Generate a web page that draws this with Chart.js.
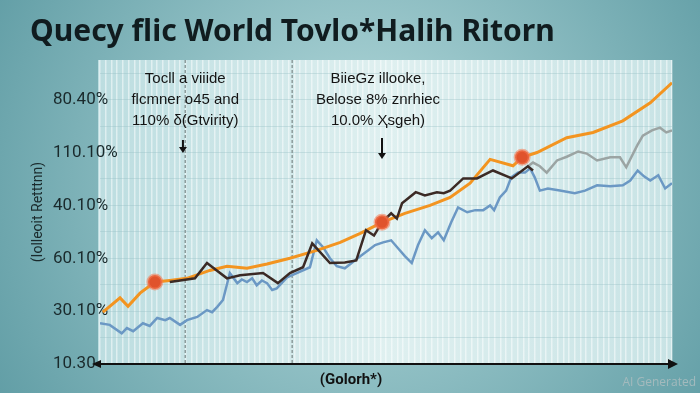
<!DOCTYPE html>
<html>
<head>
<meta charset="utf-8">
<script src="https://cdn.jsdelivr.net/npm/chart.js@4/dist/chart.umd.min.js"></script>
<style>
  html, body { margin: 0; padding: 0; background: #7fb3b8; }
  #wrap { width: 700px; height: 393px; }
</style>
</head>
<body>
<div id="wrap"><canvas id="lineChart" width="700" height="393"></canvas></div>
<script>
// values: x = period (0..100), y = position on the return axis
const yTickLabels = ['10.30', '30.10%', '60.10%', '40.10%', '110.10%', '80.40%'];

const orangeT = [0.5, 3.5, 4.9, 7.0, 9.6, 12.2, 15.2, 19.2, 22.2, 25.7, 29.2, 33.2, 37.9, 42.0, 45.5, 49.3, 53.3, 57.7, 61.2, 64.7, 68.2, 72.2, 73.8, 76.4, 81.6, 86.2, 91.4, 96.2, 100];
const orangeV = [0.98, 1.25, 1.09, 1.34, 1.55, 1.58, 1.62, 1.77, 1.85, 1.81, 1.89, 2.00, 2.15, 2.30, 2.47, 2.68, 2.85, 3.00, 3.15, 3.42, 3.87, 3.75, 3.91, 4.00, 4.28, 4.38, 4.60, 4.94, 5.32];

const blueT = [0, 1.7, 3.8, 4.7, 5.8, 7.5, 8.7, 10.0, 11.4, 12.2, 14.0, 15.2, 17.0, 18.7, 19.6, 20.5, 21.5, 22.7, 24.0, 24.8, 25.7, 26.6, 27.4, 28.3, 29.2, 30.1, 30.9, 32.7, 34.4, 36.7, 37.9, 39.0, 40.2, 41.4, 42.8, 44.1, 45.5, 46.9, 48.1, 49.5, 50.9, 52.1, 53.3, 54.5, 55.6, 56.8, 58.0, 59.1, 60.1, 61.4, 62.6, 64.2, 65.6, 67.0, 68.2, 68.9, 69.9, 71.0, 71.9, 73.1, 74.3, 75.2, 76.0, 76.9, 78.3, 80.4, 83.0, 84.8, 86.9, 89.2, 91.4, 92.7, 94.0, 95.1, 96.2, 97.6, 98.8, 100];
const blueV = [0.77, 0.74, 0.58, 0.68, 0.62, 0.77, 0.72, 0.87, 0.83, 0.87, 0.74, 0.83, 0.89, 1.02, 0.98, 1.08, 1.21, 1.72, 1.53, 1.60, 1.55, 1.62, 1.49, 1.58, 1.53, 1.40, 1.43, 1.64, 1.72, 1.83, 2.34, 2.21, 2.00, 1.85, 1.81, 1.92, 2.04, 2.15, 2.25, 2.30, 2.34, 2.19, 2.04, 1.91, 2.25, 2.53, 2.38, 2.49, 2.34, 2.68, 2.96, 2.87, 2.91, 2.91, 3.00, 2.91, 3.15, 3.28, 3.53, 3.62, 3.62, 3.70, 3.53, 3.28, 3.32, 3.28, 3.23, 3.28, 3.38, 3.36, 3.38, 3.47, 3.66, 3.55, 3.47, 3.57, 3.32, 3.42];

const blackT = [12.2, 15.2, 16.6, 18.7, 22.2, 24.5, 28.5, 31.1, 33.2, 35.5, 37.1, 40.2, 42.8, 44.8, 46.5, 47.9, 49.3, 50.9, 51.9, 52.8, 55.2, 56.8, 58.9, 60.1, 61.2, 63.5, 65.9, 68.7, 72.0, 74.8, 75.7];
const blackV = [1.55, 1.60, 1.62, 1.91, 1.62, 1.68, 1.72, 1.53, 1.72, 1.83, 2.28, 1.91, 1.92, 1.96, 2.53, 2.43, 2.68, 2.85, 2.75, 3.04, 3.25, 3.19, 3.25, 3.23, 3.28, 3.51, 3.51, 3.66, 3.51, 3.74, 3.66];

const grayT = [74.8, 75.7, 76.9, 78.1, 79.9, 81.6, 83.6, 85.1, 86.9, 89.2, 90.9, 92.0, 93.9, 94.9, 96.5, 97.9, 99.0, 100];
const grayV = [3.74, 3.81, 3.74, 3.62, 3.85, 3.92, 4.02, 3.98, 3.85, 3.91, 3.91, 3.72, 4.13, 4.32, 4.42, 4.47, 4.38, 4.42];

const markerT = [9.6, 49.3, 73.8];
const markerV = [1.55, 2.68, 3.91];

const dividerT = [14.9, 33.6];
const notes = [
  { t: 14.9, lines: ['Tocll a viiide', 'flcmner o45 and', '110% δ(Gtvirity)'] },
  { t: 48.6, lines: ['BiieGz illooke,', 'Belose 8% znrhiec', '10.0% Ҳsgeh)'] }
];
const arrowT = [14.5, 49.3];

const pts = (ts, vs) => ts.map((t, i) => ({ x: t, y: vs[i] }));

const backdrop = {
  id: 'backdrop',
  beforeDraw(chart) {
    const { ctx, chartArea: a } = chart;
    ctx.save();
    const g = ctx.createRadialGradient(360, 170, 20, 360, 190, 430);
    g.addColorStop(0, '#b2d8da');
    g.addColorStop(1, '#5f9ca4');
    ctx.fillStyle = g;
    ctx.fillRect(0, 0, chart.width, chart.height);
    const p = ctx.createLinearGradient(a.left, 0, a.right, 0);
    p.addColorStop(0, '#bcdde0');
    p.addColorStop(0.5, '#dff0f0');
    p.addColorStop(1, '#c8e3e5');
    ctx.fillStyle = p;
    ctx.fillRect(a.left - 2, a.top, a.right - a.left + 2, a.bottom - a.top);
    ctx.restore();
  },
  beforeDatasetsDraw(chart) {
    const { ctx, chartArea: a, scales } = chart;
    ctx.save();
    ctx.strokeStyle = '#8c9c9c';
    ctx.lineWidth = 1.5;
    ctx.setLineDash([3, 2]);
    dividerT.forEach(t => {
      const x = scales.x.getPixelForValue(t);
      ctx.beginPath();
      ctx.moveTo(x, a.top);
      ctx.lineTo(x, a.bottom);
      ctx.stroke();
    });
    ctx.restore();
  },
  afterDraw(chart) {
    const { ctx, chartArea: a, scales } = chart;
    ctx.save();
    // title
    ctx.fillStyle = '#101c1f';
    ctx.font = 'bold 30px "Noto Sans"';
    ctx.textBaseline = 'alphabetic';
    ctx.textAlign = 'left';
    ctx.fillText('Quecy flic World Tovlo*Halih Ritorn', 30, 41, 525);

    // notes
    ctx.font = '15px "Liberation Sans"';
    ctx.textAlign = 'center';
    ctx.textBaseline = 'middle';
    ctx.fillStyle = '#141414';
    notes.forEach(n => {
      const x = scales.x.getPixelForValue(n.t);
      n.lines.forEach((s, i) => ctx.fillText(s, x, 79 + i * 21));
    });

    // small arrows under the notes
    ctx.strokeStyle = '#111';
    ctx.fillStyle = '#111';
    ctx.lineWidth = 2;
    arrowT.forEach((t, i) => {
      const x = scales.x.getPixelForValue(t);
      const y0 = i === 0 ? 140 : 138, y1 = i === 0 ? 152 : 158;
      ctx.beginPath();
      ctx.moveTo(x, y0);
      ctx.lineTo(x, y1 - 4);
      ctx.stroke();
      ctx.beginPath();
      ctx.moveTo(x - 4, y1 - 5);
      ctx.lineTo(x + 4, y1 - 5);
      ctx.lineTo(x, y1 + 1);
      ctx.closePath();
      ctx.fill();
    });

    // x axis line with arrows
    const y = a.bottom;
    ctx.lineWidth = 2;
    ctx.beginPath();
    ctx.moveTo(94, y);
    ctx.lineTo(672, y);
    ctx.stroke();
    ctx.beginPath();
    ctx.moveTo(678, y);
    ctx.lineTo(668, y - 5);
    ctx.lineTo(668, y + 5);
    ctx.closePath();
    ctx.fill();
    ctx.beginPath();
    ctx.moveTo(92, y);
    ctx.lineTo(101, y - 4);
    ctx.lineTo(101, y + 4);
    ctx.closePath();
    ctx.fill();

    // watermark
    ctx.font = '12px "Open Sans"';
    ctx.textAlign = 'right';
    ctx.fillStyle = '#a3babd';
    ctx.fillText('AI Generated', 696, 383);
    ctx.restore();
  }
};

const ctx = document.getElementById('lineChart').getContext('2d');
let lineChart = new Chart(ctx, {
  type: 'line',
  data: {
    datasets: [
      {
        label: 'Markers',
        data: pts(markerT, markerV),
        showLine: false,
        pointRadius: 7,
        pointBackgroundColor: '#e0532c',
        pointBorderColor: 'rgba(245,120,80,0.55)',
        pointBorderWidth: 3,
        order: 0
      },
      {
        label: 'Black',
        data: pts(blackT, blackV),
        borderColor: '#3b2a25',
        borderWidth: 2.5,
        pointRadius: 0,
        tension: 0,
        order: 1
      },
      {
        label: 'Gray',
        data: pts(grayT, grayV),
        borderColor: '#9ba4a3',
        borderWidth: 2.5,
        pointRadius: 0,
        tension: 0,
        order: 2
      },
      {
        label: 'Orange',
        data: pts(orangeT, orangeV),
        borderColor: '#f39420',
        borderWidth: 3,
        pointRadius: 0,
        tension: 0,
        order: 3
      },
      {
        label: 'Blue',
        data: pts(blueT, blueV),
        borderColor: '#6b98c4',
        borderWidth: 2.5,
        pointRadius: 0,
        tension: 0,
        order: 4
      }
    ]
  },
  options: {
    responsive: false,
    animation: false,
    layout: { padding: { top: 60, left: 30, right: 28, bottom: 0 } },
    plugins: {
      legend: { display: false },
      tooltip: { enabled: false },
      subtitle: {
        display: true,
        position: 'bottom',
        text: '(Golorh*)',
        color: '#111',
        font: { family: 'Roboto', size: 15, weight: 'bold' },
        padding: { top: 7, bottom: 4 }
      }
    },
    scales: {
      x: {
        type: 'linear',
        min: 0,
        max: 100,
        border: { display: false },
        grid: { color: 'rgba(255,255,255,0.5)', lineWidth: 1.5, drawTicks: false },
        ticks: { display: false, stepSize: 1, maxTicksLimit: 200 },
        afterFit: s => { s.height = 0; }
      },
      y: {
        min: 0,
        max: 5.75,
        border: { display: false },
        grid: { color: 'rgba(150,190,195,0.35)', drawTicks: false },
        ticks: {
          stepSize: 0.25,
          mirror: true,
          padding: -47,
          color: '#1a2a2c',
          font: { family: 'Roboto', size: 17 },
          callback: v => Number.isInteger(v) ? yTickLabels[v] : ''
        },
        title: {
          display: true,
          text: '(Iolleoit Retttnn)',
          color: '#1a2a2c',
          font: { family: 'Roboto', size: 14 },
          padding: 0
        },
        afterFit: s => { s.width = 70; }
      }
    }
  },
  plugins: [backdrop]
});
</script>
</body>
</html>
